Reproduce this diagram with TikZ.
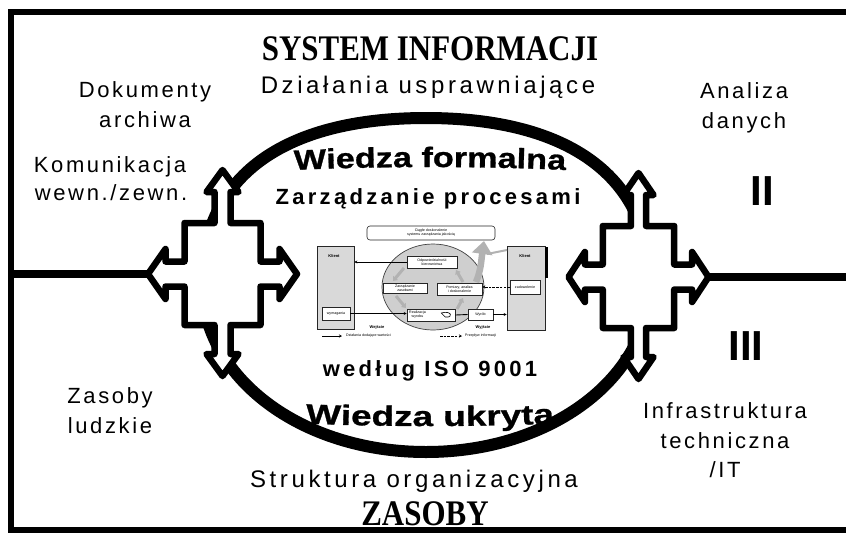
\documentclass[tikz,border=0pt]{standalone}
\usepackage{fontspec}
\setmainfont{Liberation Sans}
\newfontfamily\lsfont[LetterSpace=12]{Liberation Sans}
\newfontfamily\lsmfont[LetterSpace=15]{Liberation Sans}
\newfontfamily\serfont{Liberation Serif}
\newfontfamily\wfam[FakeStretch=1.22,FakeBold=1]{Liberation Sans Bold}
\newfontfamily\ufam[FakeStretch=1.32,FakeBold=1]{Liberation Sans Bold}
\usetikzlibrary{arrows.meta,decorations.text,shapes.geometric,calc}
\newcommand{\wfnt}{\wfam\fontsize{28}{28}\selectfont}
\newcommand{\ufnt}{\ufam\fontsize{28}{28}\selectfont}
\begin{document}
\begin{tikzpicture}[x=1pt,y=-1pt,
  frameline/.style={line width=6pt},
  crossst/.style={draw, fill=white, line width=6.5pt, line join=round},
  hline/.style={line width=7.5pt},
  ring/.style={line width=12pt},
  side/.style={font=\lsfont\fontsize{22}{26}\selectfont, anchor=base, inner sep=0pt},
  midt/.style={font=\lsmfont\fontsize{24}{28}\selectfont, anchor=base, inner sep=0pt},
  midb/.style={font=\lsmfont\bfseries\fontsize{22}{26}\selectfont, anchor=base, inner sep=0pt},
  titlet/.style={font=\serfont\bfseries\fontsize{36}{40}\selectfont, anchor=base, inner sep=0pt},
  romant/.style={font=\bfseries\fontsize{42}{44}\selectfont, anchor=base, inner sep=0pt},
  tinyt/.style={font=\fontsize{3.6}{4}\selectfont, inner sep=0pt, align=center},
  tinyb/.style={font=\bfseries\fontsize{4}{4.5}\selectfont, inner sep=0pt},
  sbox/.style={draw=black!85, fill=white, line width=0.6pt, inner sep=0pt, font=\fontsize{3.6}{4}\selectfont, align=center},
  kbox/.style={draw=black!85, fill=gray!30, line width=0.7pt, inner sep=0pt},
  sarr/.style={line width=0.9pt, -{Stealth[length=3pt,width=3pt]}},
  darr/.style={line width=0.9pt, dash pattern=on 2.5pt off 1.2pt, -{Stealth[length=3pt,width=3pt]}},
  garr/.style={draw=gray!60, line width=3pt, -{Triangle[length=4pt,width=6pt]}},
  crosspic/.pic={
    \draw[crossst] (0,-104) -- (16,-82) -- (8,-82) -- (8,-51) -- (38,-51) -- (38,-12.5)
      -- (57,-12.5) -- (57,-25) -- (74.5,0) -- (57,25) -- (57,12.5) -- (38,12.5)
      -- (38,51) -- (8,51) -- (8,80) -- (16,80) -- (0,102) -- (-16,80) -- (-8,80)
      -- (-8,51) -- (-38,51) -- (-38,12.5) -- (-57,12.5) -- (-57,25) -- (-74.5,0)
      -- (-57,-25) -- (-57,-12.5) -- (-38,-12.5) -- (-38,-51) -- (-8,-51) -- (-8,-82)
      -- (-16,-82) -- cycle;
  }
]
\useasboundingbox (0,0) rectangle (846,542);
\fill[white] (0,0) rectangle (846,542);

% frame
\coordinate (fTL) at (11,12);
\coordinate (fTR) at (846,12);
\coordinate (fBL) at (11,530);
\coordinate (fBR) at (846,530);
\draw[frameline] (fTR) -- (fTL) -- (fBL) -- (fBR);

% big ring (slightly flattened at the top)
\draw[ring] (650,283) .. controls (650,177.4) and (569.4,118) .. (426,118)
  .. controls (282.6,118) and (202,177.4) .. (202,283)
  .. controls (202,377.1) and (300.6,452) .. (426,452)
  .. controls (551.4,452) and (650,377.1) .. (650,283) -- cycle;

% crosses
\pic at (222.5,274) {crosspic};
\pic[xscale=0.94] at (638.5,277) {crosspic};

% horizontal connectors
\coordinate (fL) at (11,274);
\coordinate (Ltip) at (148,274);
\coordinate (Rtip) at (708.5,277);
\coordinate (fR) at (846,277);
\draw[hline] (fL) -- (Ltip);
\draw[hline] (Rtip) -- (fR);

% titles
\node[titlet] (tsys) at (430,60) {\scalebox{0.86}[1]{SYSTEM INFORMACJI}};
\node[titlet] (tzas) at (425,525) {\scalebox{0.86}[1]{ZASOBY}};
\node[midt] (tdz) at (428,93) {Działania usprawniające};
\node[midt] (tstr) at (414,487) {Struktura organizacyjna};
\node[midb] (tzp) at (428,204) {Zarządzanie procesami};
\node[midb] (tiso) at (430,376) {według ISO 9001};

% side labels
\node[side] (dok1) at (145,97) {Dokumenty};
\node[side] (dok2) at (145,127) {archiwa};
\node[side] (kom1) at (110,172) {Komunikacja};
\node[side] (kom2) at (111,200) {wewn./zewn.};
\node[side] (an1) at (744,98) {Analiza};
\node[side] (an2) at (744,128) {danych};
\node[side] (zl1) at (110,403) {Zasoby};
\node[side] (zl2) at (110,433) {ludzkie};
\node[side] (inf1) at (725,418) {Infrastruktura};
\node[side] (inf2) at (725,448) {techniczna};
\node[side] (inf3) at (725,477) {/IT};
\node[romant] (rII) at (762,205) {II};
\node[romant] (rIII) at (746,360) {III};

% curved texts
\path[decorate, decoration={text along path, text align=center, text={|\wfnt|Wiedza formalna}}]
  (250,173) .. controls (340,165) and (520,165) .. (610,173);
\path[decorate, decoration={text along path, text align=center, text={|\ufnt|Wiedza ukryta}}]
  (250,420) .. controls (340,428) and (520,428) .. (610,420);

% ---------- central ISO 9001 model ----------
\node[sbox, rounded corners=3pt, minimum width=128pt, minimum height=14pt] (ciag) at (431,233)
  {Ciągłe doskonalenie\\systemu zarządzania jakością};
\node[kbox, minimum width=37pt, minimum height=83pt] (klL) at (335.5,287.5) {};
\node[tinyb] (klLt) at (334,256) {Klient};
\node[sbox, minimum width=28pt, minimum height=13pt] (wym) at (336,313.5) {wymagania};
\node[kbox, minimum width=38pt, minimum height=84pt] (klR) at (526,288) {};
\node[fill=black, minimum width=3pt, minimum height=31pt, inner sep=0pt] (bar) at (546.5,262.5) {};
\node[tinyb] (klRt) at (525,256) {Klient};
\node[sbox, minimum width=30pt, minimum height=14pt] (zad) at (525,287) {zadowolenie};

\node[ellipse, draw=black!75, fill=gray!38, line width=0.7pt, minimum width=102pt, minimum height=86pt] (iell) at (433,287) {};

% grey cycle arrows
\draw[garr] (404,268) -- (393,281);
\draw[garr] (396,296) -- (406,308);
\draw[garr] (457,309) -- (463,298);
\draw[garr] (463,282) -- (456,270);

\node[sbox, minimum width=50pt, minimum height=12pt] (odp) at (432,262) {Odpowiedzialność\\kierownictwa};
\node[sbox, minimum width=44pt, minimum height=10pt] (zasb) at (405,288) {Zarządzanie\\zasobami};
\node[sbox, minimum width=45pt, minimum height=12pt] (pom) at (459.5,289) {Pomiary, analiza\\i doskonalenie};
\node[sbox, minimum width=48pt, minimum height=12pt] (real) at (431,315) {};
\node[tinyt, anchor=west] (realt) at (409,315) {Realizacja\\wyrobu};
\draw[line width=0.6pt] ($(real.east)+(-14,-2)$) .. controls ($(real.east)+(-4,-5)$) and ($(real.east)+(-1,3)$) .. ($(real.east)+(-10,2)$) -- cycle;
\node[sbox, minimum width=25pt, minimum height=11pt] (wyr) at (480.5,314.5) {Wyrób};

% big grey arrow up to the improvement box
\draw[draw=gray!60, line width=2pt] (487,254) -- (507,250);
\draw[draw=gray!60, line width=6.5pt, -{Triangle[length=13pt,width=20pt]}] (476,282) .. controls (481,270) and (481,262) .. (484,241);

% flow arrows
\draw[sarr] (odp.west) -- (odp.west -| klL.east);
\draw[sarr] (wym.east) -- (wym.east -| real.west);
\draw[line width=0.9pt] (real.east) -- (wyr.west);
\draw[sarr] (wyr.east) -- (wyr.east -| klR.west);
\draw[darr] (zad.west) -- (zad.west -| pom.east);

\node[tinyb] (wej) at (377,327) {Wejście};
\node[tinyb] (wyj) at (483,327) {Wyjście};

% legend
\coordinate (lg1a) at (322,336);
\coordinate (lg1b) at (342,336);
\coordinate (lg2a) at (440,336);
\coordinate (lg2b) at (462,336);
\draw[sarr] (lg1a) -- (lg1b);
\draw[darr] (lg2a) -- (lg2b);
\node[tinyt, anchor=west] (lg1t) at (346,336) {Działania dodające wartości};
\node[tinyt, anchor=west] (lg2t) at (465,336) {Przepływ informacji};
\end{tikzpicture}
\end{document}
